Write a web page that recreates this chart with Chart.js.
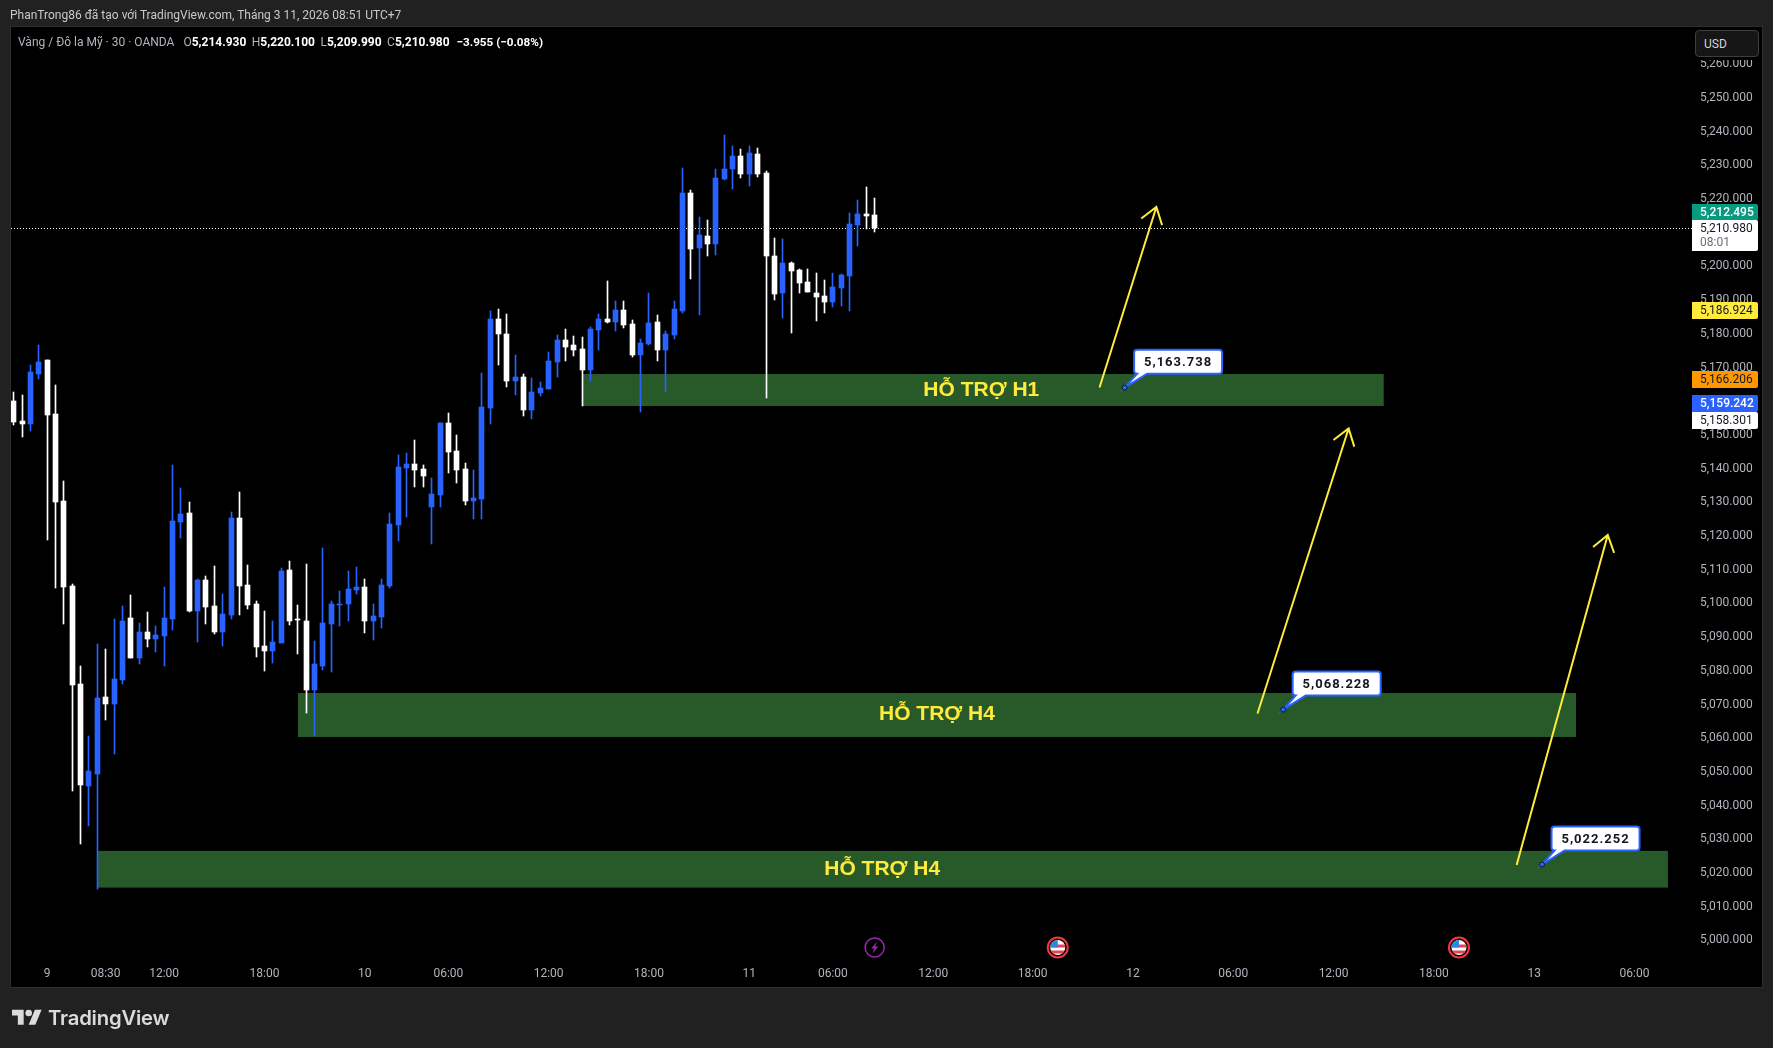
<!DOCTYPE html>
<html>
<head>
<meta charset="utf-8">
<title>XAUUSD 30m</title>
<script src="https://cdn.jsdelivr.net/npm/chart.js@4"></script>
<style>
  body { margin: 0; background: #212121; overflow: hidden; }
  #chart { display: block; }
  .head { position: absolute; white-space: pre; font-family: Roboto, sans-serif; font-size: 12px; color: #b2b5be; }
  #title { left: 10px; top: 8px; color: #c8c9ce; }
  #legend { left: 18px; top: 35px; }
  #legend b { color: #fff; font-weight: 700; }
  #legend i { font-style: normal; margin-left: 5.5px; }
  #legend .open { margin-left: 9px; }
  #legend .change { font-size: 11.7px; margin-left: 7px; }
  #usdBack { position: absolute; left: 1692px; top: 27px; width: 70px; height: 33px; background: #000; }
  #usd { position: absolute; left: 1695px; top: 30px; width: 64px; height: 27px; box-sizing: border-box; border: 1px solid #3d3d3d; border-radius: 4px; background: #161616; color: #d1d4dc; font: 12px Roboto, sans-serif; line-height: 26px; padding-left: 8px; }
  #mark { position: absolute; left: 12px; top: 1005px; display: flex; align-items: center; color: #dbdbdb; }
  #mark span { font: 600 20.3px Inter, sans-serif; margin-left: 6px; letter-spacing: -0.2px; }
</style>
</head>
<body>
<canvas id="chart" width="1773" height="1048"></canvas>
<div id="title" class="head">PhanTrong86 đã tạo với TradingView.com, Tháng 3 11, 2026 08:51 UTC+7</div>
<div id="legend" class="head">Vàng / Đô la Mỹ · 30 · OANDA<i class="open">O<b>5,214.930</b></i><i>H<b>5,220.100</b></i><i>L<b>5,209.990</b></i><i>C<b>5,210.980</b></i><i class="change"><b>−3.955 (−0.08%)</b></i></div>
<div id="usdBack"></div>
<div id="usd">USD</div>
<div id="mark">
  <svg width="30" height="24" viewBox="0 0 36 28" fill="#dbdbdb"><path d="M14 22H7V11H0V4h14v18zM28 22h-8l7.5-18h8L28 22z"/><circle cx="20" cy="8" r="4"/></svg>
  <span>TradingView</span>
</div>
<script>
// 30 minute candles, oldest first
const opens = [
  5159.79, 5153.86, 5152.97, 5167.81, 5171.96, 5155.94, 5130.12, 5104.90, 5075.82, 5045.55, 5049.11, 5071.96, 5069.88,
  5077.00, 5095.40, 5083.53, 5091.25, 5089.17, 5090.06, 5095.10, 5123.89, 5126.56, 5097.48, 5106.68, 5098.96, 5091.25,
  5096.29, 5125.07, 5105.19, 5099.56, 5087.09, 5085.61, 5087.98, 5109.64, 5095.10, 5094.51, 5074.04, 5081.16, 5093.62,
  5099.26, 5099.56, 5103.71, 5104.60, 5094.51, 5095.69, 5104.89, 5122.99, 5139.91, 5141.09, 5139.61, 5128.33, 5131.90,
  5153.26, 5144.95, 5139.61, 5130.12, 5130.71, 5157.71, 5184.12, 5179.67, 5165.73, 5166.91, 5157.12, 5162.16, 5163.35,
  5171.36, 5177.89, 5176.41, 5175.22, 5168.99, 5180.86, 5184.12, 5183.23, 5186.79, 5182.64, 5173.44, 5176.70, 5183.23,
  5174.92, 5179.37, 5186.51, 5221.52, 5205.20, 5208.76, 5206.39, 5225.67, 5228.64, 5232.50, 5227.16, 5233.09, 5227.45,
  5202.83, 5191.85, 5200.75, 5198.67, 5195.11, 5191.85, 5190.96, 5189.18, 5193.33, 5196.89, 5212.03, 5215.29, 5214.93
];
const closes = [
  5153.56, 5152.97, 5168.40, 5171.37, 5155.64, 5129.83, 5104.60, 5075.52, 5045.85, 5050.00, 5071.66, 5069.88, 5077.30,
  5094.51, 5083.53, 5091.25, 5089.17, 5090.36, 5095.40, 5124.18, 5126.26, 5097.48, 5106.68, 5098.67, 5091.25, 5096.59,
  5125.07, 5104.90, 5099.26, 5086.80, 5085.61, 5088.28, 5109.35, 5094.51, 5094.81, 5074.04, 5081.75, 5093.92, 5099.56,
  5099.56, 5104.01, 5104.60, 5094.51, 5095.99, 5105.19, 5123.29, 5140.20, 5141.09, 5139.31, 5137.53, 5132.19, 5153.26,
  5144.66, 5139.31, 5130.12, 5131.01, 5158.01, 5184.12, 5179.67, 5165.73, 5166.91, 5157.12, 5162.46, 5163.65, 5171.66,
  5177.89, 5175.81, 5174.92, 5168.99, 5181.16, 5184.12, 5183.23, 5186.79, 5182.34, 5173.44, 5177.00, 5182.94, 5174.92,
  5179.67, 5187.09, 5221.52, 5204.90, 5209.06, 5206.39, 5225.97, 5228.64, 5232.50, 5227.16, 5233.39, 5227.16, 5202.83,
  5191.55, 5200.75, 5198.38, 5194.82, 5192.15, 5190.66, 5189.18, 5193.63, 5197.19, 5212.32, 5215.29, 5214.70, 5210.98
];
const highs = [
  5162.47, 5161.57, 5170.48, 5176.41, 5171.96, 5164.54, 5136.05, 5105.49, 5081.16, 5060.39, 5087.69, 5086.20, 5095.10,
  5098.96, 5102.23, 5093.92, 5097.18, 5093.03, 5104.60, 5140.80, 5133.98, 5129.82, 5106.97, 5107.86, 5110.83, 5102.52,
  5126.86, 5132.79, 5111.13, 5100.45, 5097.48, 5094.51, 5110.24, 5112.32, 5099.26, 5111.42, 5088.58, 5116.17, 5100.45,
  5103.41, 5109.35, 5110.53, 5106.97, 5099.55, 5106.97, 5126.55, 5143.76, 5144.36, 5148.22, 5140.80, 5136.94, 5153.26,
  5156.23, 5149.70, 5141.39, 5139.31, 5168.10, 5186.50, 5187.09, 5185.61, 5173.44, 5167.80, 5166.62, 5165.43, 5174.33,
  5179.37, 5181.16, 5179.08, 5178.78, 5181.75, 5185.61, 5195.40, 5189.46, 5189.46, 5183.83, 5178.19, 5191.84, 5185.31,
  5180.56, 5189.46, 5228.94, 5222.41, 5214.40, 5213.51, 5228.64, 5238.73, 5235.47, 5234.58, 5235.47, 5234.87, 5228.05,
  5208.17, 5207.87, 5201.05, 5198.97, 5198.97, 5197.78, 5195.71, 5197.78, 5197.49, 5215.59, 5219.44, 5223.30, 5220.10
];
const lows = [
  5152.67, 5149.11, 5150.89, 5166.32, 5118.55, 5104.30, 5093.62, 5044.07, 5028.34, 5033.68, 5014.99, 5065.13, 5055.05,
  5075.82, 5083.53, 5081.75, 5086.80, 5085.31, 5081.16, 5091.84, 5119.14, 5097.18, 5088.28, 5093.62, 5090.65, 5087.09,
  5095.10, 5096.29, 5098.07, 5083.83, 5079.67, 5082.05, 5087.98, 5093.32, 5084.72, 5067.21, 5060.39, 5079.97, 5079.38,
  5093.03, 5094.51, 5102.52, 5090.95, 5088.87, 5092.43, 5104.30, 5118.25, 5125.37, 5134.27, 5134.27, 5117.36, 5128.33,
  5138.42, 5135.46, 5128.93, 5124.77, 5124.77, 5152.96, 5170.47, 5163.94, 5161.57, 5155.34, 5154.45, 5161.27, 5163.35,
  5166.91, 5171.66, 5173.14, 5158.31, 5165.73, 5174.92, 5182.94, 5180.56, 5181.45, 5172.85, 5156.53, 5176.41, 5171.66,
  5162.46, 5178.19, 5185.91, 5196.00, 5185.32, 5202.83, 5203.13, 5225.38, 5222.71, 5225.97, 5223.60, 5226.27, 5160.70,
  5189.77, 5184.43, 5179.98, 5191.85, 5192.15, 5183.54, 5185.91, 5187.70, 5187.99, 5186.51, 5205.80, 5210.84, 5209.99
];
const slots = opens.map((_, i) => i);

// time axis, slot numbers continue past the last candle
const timeSlots = [4, 11, 18, 30, 42, 52, 64, 76, 88, 98, 110, 121.9, 133.9, 145.9, 157.9, 169.9, 181.9, 193.9];
const timeLabels = ["9", "08:30", "12:00", "18:00", "10", "06:00", "12:00", "18:00", "11", "06:00", "12:00", "18:00", "12", "06:00", "12:00", "18:00", "13", "06:00"];

// support zones
const zoneFrom = [68.07, 34.0, 10.05];
const zoneTo = [163.9, 186.9, 197.9];
const zoneHigh = [5167.8, 5073.15, 5026.3];
const zoneLow = [5158.301, 5060.1, 5015.4];
const zoneNames = ["HỖ TRỢ H1", "HỖ TRỢ H4", "HỖ TRỢ H4"];
const zoneNameSlot = [115.76, 110.45, 103.9];
const zoneNamePrice = [5163.05, 5066.8, 5020.9];

// target arrows
const arrowFromSlot = [129.9, 148.8, 179.8];
const arrowFromPrice = [5163.8, 5067.07, 5022.1];
const arrowToSlot = [136.7, 159.7, 190.7];
const arrowToPrice = [5217.36, 5151.63, 5120.03];

// price notes
const noteSlots = [132.9, 151.87, 182.84];
const notePrices = [5163.738, 5068.228, 5022.252];

// calendar events under the candles
const boltSlots = [103];
const flagSlots = [124.9, 172.9];

// badges on the price axis
const lastClose = 5210.98;
const tagPrices = [5212.495, 5186.924, 5166.206, 5159.242, 5158.301];
const tagFills = ["#089981", "#ffeb3b", "#ff9800", "#2962ff", "#ffffff"];
const tagInks = ["#ffffff", "#131722", "#131722", "#ffffff", "#131722"];
const tagNudge = [-11, 0, 0, 0, 14];
const countdown = "08:01";

const UP = "#2962ff";
const DOWN = "#ffffff";
const ZONE = "#285929";
const YELLOW = "#ffeb3b";

const money = (v) => v.toLocaleString("en-US", { minimumFractionDigits: 3, maximumFractionDigits: 3 });
const candleColor = (c) => (closes[c.dataIndex] >= opens[c.dataIndex] ? UP : DOWN);

function drawArrow(ctx, x0, y0, x1, y1) {
  const a = Math.atan2(y1 - y0, x1 - x0);
  ctx.strokeStyle = YELLOW;
  ctx.lineWidth = 2;
  ctx.lineJoin = "miter";
  ctx.beginPath();
  ctx.moveTo(x0, y0);
  ctx.lineTo(x1, y1);
  ctx.moveTo(x1 + 19 * Math.cos(a + 2.53), y1 + 19 * Math.sin(a + 2.53));
  ctx.lineTo(x1, y1);
  ctx.lineTo(x1 + 19 * Math.cos(a - 2.53), y1 + 19 * Math.sin(a - 2.53));
  ctx.stroke();
}

function drawNote(ctx, x, y, text) {
  const bx = x + 9.5, by = y - 38, w = 88, h = 24, r = 3, b = by + h;
  ctx.beginPath();
  ctx.moveTo(bx + r, by);
  ctx.arcTo(bx + w, by, bx + w, b, r);
  ctx.arcTo(bx + w, b, bx, b, r);
  ctx.lineTo(bx + 13, b);
  ctx.lineTo(x, y);
  ctx.lineTo(bx + 3, b);
  ctx.arcTo(bx, b, bx, by, r);
  ctx.arcTo(bx, by, bx + w, by, r);
  ctx.closePath();
  ctx.fillStyle = "#fff";
  ctx.fill();
  ctx.strokeStyle = UP;
  ctx.lineWidth = 2;
  ctx.stroke();
  ctx.beginPath();
  ctx.arc(x, y, 2.5, 0, Math.PI * 2);
  ctx.fillStyle = UP;
  ctx.fill();
  ctx.strokeStyle = "#131722";
  ctx.lineWidth = 1;
  ctx.stroke();
  ctx.fillStyle = "#131722";
  ctx.font = "bold 13px Roboto, sans-serif";
  ctx.letterSpacing = "1px";
  ctx.textAlign = "center";
  ctx.textBaseline = "middle";
  ctx.fillText(text, bx + w / 2, by + h / 2 + 1);
  ctx.letterSpacing = "0px";
}

function drawBolt(ctx, x, y) {
  ctx.beginPath();
  ctx.arc(x, y, 9.5, 0, Math.PI * 2);
  ctx.strokeStyle = "#9c27b0";
  ctx.lineWidth = 1.5;
  ctx.stroke();
  ctx.fillStyle = "#9c27b0";
  ctx.beginPath();
  ctx.moveTo(x + 2.5, y - 6);
  ctx.lineTo(x - 3.5, y + 1);
  ctx.lineTo(x - 0.5, y + 1);
  ctx.lineTo(x - 2, y + 6);
  ctx.lineTo(x + 3.5, y - 1);
  ctx.lineTo(x + 0.5, y - 1);
  ctx.closePath();
  ctx.fill();
}

function drawFlag(ctx, x, y) {
  ctx.beginPath();
  ctx.arc(x, y, 10, 0, Math.PI * 2);
  ctx.strokeStyle = "#f23645";
  ctx.lineWidth = 2;
  ctx.stroke();
  ctx.save();
  ctx.beginPath();
  ctx.arc(x, y, 7.5, 0, Math.PI * 2);
  ctx.clip();
  ctx.fillStyle = "#fff";
  ctx.fillRect(x - 8, y - 8, 16, 16);
  ctx.fillStyle = "#e8444f";
  ctx.fillRect(x - 8, y - 3, 16, 3);
  ctx.fillRect(x - 8, y + 3, 16, 3);
  ctx.fillStyle = "#2f86e0";
  ctx.fillRect(x - 8, y - 8, 8, 8);
  ctx.restore();
}

const overlays = {
  id: "overlays",
  beforeDraw(chart) {
    const { ctx } = chart;
    ctx.fillStyle = "#000";
    ctx.fillRect(11, 27, 1751, 960);
    ctx.strokeStyle = "#2e2e2e";
    ctx.lineWidth = 1;
    ctx.strokeRect(10.5, 26.5, 1752, 961);
  },
  // candles are snapped to whole pixels so the wicks stay crisp
  afterDatasetsUpdate(chart) {
    chart.data.datasets.forEach((_, d) => {
      chart.getDatasetMeta(d).data.forEach((el) => {
        el.x = Math.floor(el.x) + 0.5;
        el.y = Math.round(el.y);
        el.base = Math.round(el.base);
        if (el.y === el.base) el.base = el.y + 1;
      });
    });
  },
  beforeDatasetsDraw(chart) {
    const { ctx, scales: { x, y }, chartArea } = chart;
    ctx.fillStyle = ZONE;
    zoneNames.forEach((_, i) => {
      const left = x.getPixelForValue(zoneFrom[i]);
      const top = y.getPixelForValue(zoneHigh[i]);
      ctx.fillRect(left, top, x.getPixelForValue(zoneTo[i]) - left, y.getPixelForValue(zoneLow[i]) - top);
    });
    const py = Math.round(y.getPixelForValue(lastClose)) + 0.5;
    ctx.save();
    ctx.strokeStyle = "#fff";
    ctx.lineWidth = 1;
    ctx.setLineDash([1, 2]);
    ctx.beginPath();
    ctx.moveTo(chartArea.left, py);
    ctx.lineTo(chartArea.right, py);
    ctx.stroke();
    ctx.restore();
  },
  afterDatasetsDraw(chart) {
    const { ctx, scales: { x, y } } = chart;
    ctx.font = "bold 21px 'Liberation Sans', sans-serif";
    ctx.textAlign = "center";
    ctx.textBaseline = "middle";
    ctx.fillStyle = YELLOW;
    zoneNames.forEach((name, i) => {
      ctx.fillText(name, x.getPixelForValue(zoneNameSlot[i]), y.getPixelForValue(zoneNamePrice[i]));
    });
    arrowFromSlot.forEach((_, i) => {
      drawArrow(ctx, x.getPixelForValue(arrowFromSlot[i]), y.getPixelForValue(arrowFromPrice[i]),
        x.getPixelForValue(arrowToSlot[i]), y.getPixelForValue(arrowToPrice[i]));
    });
    notePrices.forEach((p, i) => drawNote(ctx, x.getPixelForValue(noteSlots[i]), y.getPixelForValue(p), money(p)));
    boltSlots.forEach((s) => drawBolt(ctx, x.getPixelForValue(s), 947.5));
    flagSlots.forEach((s) => drawFlag(ctx, x.getPixelForValue(s), 947.5));
  },
  afterDraw(chart) {
    const { ctx, scales: { y } } = chart;
    const left = 1692, w = 66;
    ctx.textAlign = "left";
    ctx.textBaseline = "middle";

    tagPrices.forEach((p, i) => {
      const cy = y.getPixelForValue(p) + tagNudge[i];
      ctx.fillStyle = tagFills[i];
      ctx.beginPath();
      ctx.roundRect(left, Math.round(cy - 8), w, 17, [0, 2, 2, 0]);
      ctx.fill();
      ctx.font = (tagInks[i] === "#ffffff" ? "500 " : "") + "12px Roboto, sans-serif";
      ctx.fillStyle = tagInks[i];
      ctx.fillText(money(p), left + 8, cy + 1);
    });

    // closing price with the bar countdown below it
    const cy = y.getPixelForValue(lastClose);
    ctx.font = "12px Roboto, sans-serif";
    ctx.fillStyle = "#fff";
    ctx.beginPath();
    ctx.roundRect(left, Math.round(cy - 8), w, 31, [0, 2, 2, 0]);
    ctx.fill();
    ctx.fillStyle = "#131722";
    ctx.fillText(money(lastClose), left + 8, cy + 1);
    ctx.fillStyle = "#6a6d78";
    ctx.fillText(countdown, left + 8, cy + 15);
  }
};

new Chart(document.getElementById("chart"), {
  type: "bar",
  plugins: [overlays],
  data: {
    datasets: [
      {
        order: 1,
        data: slots.map((s) => ({ x: s, y: [opens[s], closes[s]] })),
        barThickness: 5,
        backgroundColor: candleColor,
        borderWidth: 0
      },
      {
        order: 2,
        data: slots.map((s) => ({ x: s, y: [lows[s], highs[s]] })),
        barThickness: 1,
        backgroundColor: candleColor,
        borderWidth: 0
      }
    ]
  },
  options: {
    responsive: false,
    animation: false,
    layout: { padding: { left: 11, top: 27, right: 11, bottom: 61 } },
    plugins: { legend: { display: false }, tooltip: { enabled: false } },
    datasets: { bar: { grouped: false } },
    scales: {
      x: {
        type: "linear",
        offset: false,
        min: -0.323,
        max: 200.78,
        grid: { display: false, drawTicks: false, offset: false },
        border: { display: false },
        afterFit: (s) => { s.height = 29; },
        afterBuildTicks: (s) => { s.ticks = timeSlots.map((v) => ({ value: v })); },
        ticks: {
          autoSkip: false,
          maxRotation: 0,
          padding: 9,
          color: "#b2b5be",
          font: { family: "Roboto, sans-serif", size: 12 },
          callback: (v) => timeLabels[timeSlots.indexOf(v)]
        }
      },
      y: {
        position: "right",
        min: 4994.51,
        max: 5270.77,
        grid: { display: false, drawTicks: false },
        border: { display: false },
        afterFit: (s) => { s.width = 70; },
        ticks: {
          stepSize: 10,
          includeBounds: false,
          padding: 8,
          labelOffset: 1,
          color: "#b2b5be",
          font: { family: "Roboto, sans-serif", size: 12 },
          callback: (v) => (v > 5260 ? "" : money(v))
        }
      }
    }
  }
});
</script>
</body>
</html>
